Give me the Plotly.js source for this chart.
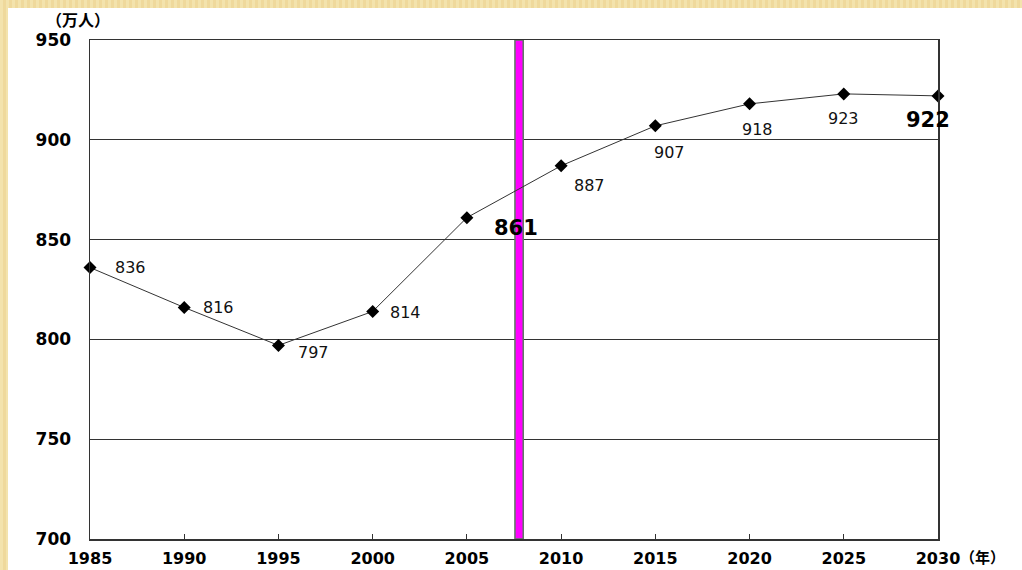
<!DOCTYPE html>
<html>
<head>
<meta charset="utf-8">
<script src="https://cdn.plot.ly/plotly-3.0.1.min.js"></script>
<style>
  html, body { margin: 0; padding: 0; width: 1022px; height: 570px; overflow: hidden;
    background: repeating-linear-gradient(90deg, #f3e3ad 0px, #f3e3ad 3px, #efd99c 3px, #efd99c 6px); }
  #chart { position: absolute; left: 8px; top: 8px; width: 1014px; height: 562px; background: #fff; }
</style>
</head>
<body>
<div id="chart"></div>
<script>
// Data
const years = [1985, 1990, 1995, 2000, 2005, 2010, 2015, 2020, 2025, 2030];
const population = [836, 816, 797, 814, 861, 887, 907, 918, 923, 922];
const labels = ['836', '816', '797', '814', '861', '887', '907', '918', '923', '922'];
const boldLabels = [false, false, false, false, true, false, false, false, false, true];
const xTickVals = [1985, 1990, 1995, 2000, 2005, 2010, 2015, 2020, 2025, 2030];
const yTickVals = [700, 750, 800, 850, 900, 950];
const currentYear = 2007.77;

// Label placement (pixel offsets from each point)
const labelOffsets = [[40, 0], [34, 0], [35, 7], [33, 1], [49, 10], [28, 20], [14, 27], [8, 26], [0, 25], [-10, 24]];

const trace = {
  x: years, y: population, type: 'scatter', mode: 'lines+markers',
  line: { color: '#333', width: 1 },
  marker: { symbol: 'diamond', size: 10, color: '#000' },
  cliponaxis: false, hoverinfo: 'skip'
};

const annotations = years.map((yr, i) => ({
  x: yr, y: population[i], xref: 'x', yref: 'y', text: labels[i], showarrow: false,
  xshift: labelOffsets[i][0], yshift: -labelOffsets[i][1],
  font: boldLabels[i] ? { family: 'DejaVu Sans', size: 21, color: '#000', weight: 'bold' }
                      : { family: 'DejaVu Sans', size: 16, color: '#111' }
}));
annotations.push({ xref: 'paper', yref: 'paper', x: -0.014, y: 1.043, xanchor: 'center', yanchor: 'middle',
  text: '（万人）', showarrow: false, borderpad: 0,
  font: { family: 'Noto Sans CJK JP', size: 16, color: '#000', weight: 'bold' } });
annotations.push({ xref: 'paper', yref: 'paper', x: 1.052, y: -0.035, xanchor: 'center', yanchor: 'middle',
  text: '（年）', showarrow: false, borderpad: 0,
  font: { family: 'Noto Sans CJK JP', size: 15, color: '#000', weight: 'bold' } });

const layout = {
  width: 1014, height: 562,
  margin: { l: 82, r: 84, t: 32, b: 31 },
  paper_bgcolor: '#fff', plot_bgcolor: '#fff',
  showlegend: false,
  xaxis: {
    range: [1985, 2030], tickvals: xTickVals, ticktext: xTickVals.map(String),
    showgrid: false, zeroline: false,
    showline: true, linecolor: '#333', linewidth: 1.5, mirror: true,
    ticks: 'inside', ticklen: 5, tickcolor: '#333', ticklabelstandoff: 4,
    tickfont: { family: 'DejaVu Sans', size: 16, color: '#000', weight: 'bold' }
  },
  yaxis: {
    range: [700, 950], tickvals: yTickVals, ticktext: yTickVals.map(String),
    showgrid: true, gridcolor: '#333', gridwidth: 1, zeroline: false,
    showline: true, linecolor: '#333', linewidth: 1.5, mirror: true,
    ticks: '', ticklabelstandoff: 14,
    tickfont: { family: 'DejaVu Sans', size: 17, color: '#000', weight: 'bold' }
  },
  shapes: [{
    type: 'rect', xref: 'x', yref: 'y', layer: 'between',
    x0: currentYear - 0.22, x1: currentYear + 0.22, y0: 700, y1: 950,
    fillcolor: '#ff00ff', line: { color: '#5d7a62', width: 1.5 }
  }],
  annotations: annotations
};

Plotly.newPlot('chart', [trace], layout, { displayModeBar: false, staticPlot: true });
</script>
</body>
</html>
